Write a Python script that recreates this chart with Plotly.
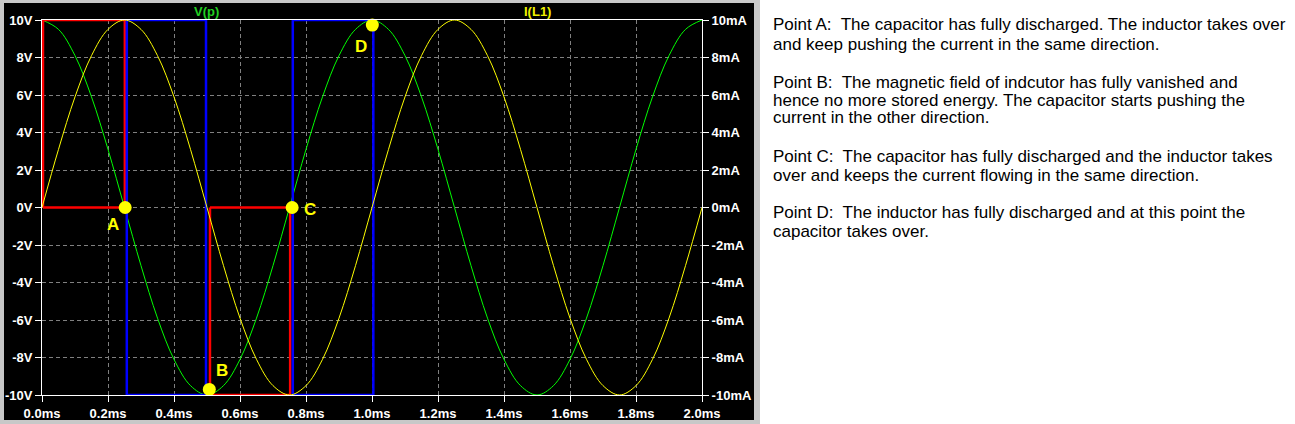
import plotly.graph_objects as go

# ---------------- data ----------------
time_ms = [round(i * 0.05, 2) for i in range(41)]
v_p = [10.0, 9.5, 8.1, 5.9, 3.1, 0.0, -3.1, -5.9, -8.1, -9.5, -10.0, -9.5, -8.1, -5.9, -3.1,
       0.0, 3.1, 5.9, 8.1, 9.5, 10.0, 9.5, 8.1, 5.9, 3.1, 0.0, -3.1, -5.9, -8.1, -9.5, -10.0,
       -9.5, -8.1, -5.9, -3.1, 0.0, 3.1, 5.9, 8.1, 9.5, 10.0]
i_l1 = [0.0, 3.1, 5.9, 8.1, 9.5, 10.0, 9.5, 8.1, 5.9, 3.1, 0.0, -3.1, -5.9, -8.1, -9.5, -10.0,
        -9.5, -8.1, -5.9, -3.1, 0.0, 3.1, 5.9, 8.1, 9.5, 10.0, 9.5, 8.1, 5.9, 3.1, 0.0, -3.1,
        -5.9, -8.1, -9.5, -10.0, -9.5, -8.1, -5.9, -3.1, 0.0]

red1_x = [0.003, 0.003, 0.251, 0.251, 0.003]
red1_y = [0, 10, 10, 0, 0]
red2_x = [0.509, 0.509, 0.752, 0.752, 0.509]
red2_y = [0, -10, -10, 0, 0]
blue1_x = [0.257, 0.257, 0.497, 0.497, 0.257]
blue1_y = [10, -10, -10, 10, 10]
blue2_x = [0.760, 0.760, 1.004, 1.004, 0.760]
blue2_y = [10, -10, -10, 10, 10]

point_names = ["A", "B", "C", "D"]
point_t = [0.252, 0.507, 0.758, 1.001]
point_v = [0.0, -9.7, 0.0, 9.73]

trace_names = ["V(p)", "I(L1)"]

x_ticks = [round(i * 0.2, 1) for i in range(11)]
x_ticktext = ["%.1fms" % v for v in x_ticks]
y_ticks = [10, 8, 6, 4, 2, 0, -2, -4, -6, -8, -10]
y_ticktext = ["%dV" % v for v in y_ticks]
y2_ticktext = ["%dmA" % v for v in y_ticks]

notes = [
    "Point A:\u00a0 The capacitor has fully discharged. The inductor takes over",
    "and keep pushing the current in the same direction.",
    "Point B:\u00a0 The magnetic field of indcutor has fully vanished and",
    "hence no more stored energy. The capacitor starts pushing the",
    "current in the other direction.",
    "Point C:\u00a0 The capacitor has fully discharged and the inductor takes",
    "over and keeps the current flowing in the same direction.",
    "Point D:\u00a0 The inductor has fully discharged and at this point the",
    "capacitor takes over.",
]
note_rows = [25, 45, 82, 100, 118, 157, 175, 213, 231]

# ---------------- layout geometry ----------------
W, H = 1295, 424
L, R, T, B = 42, 702, 20, 395


def px2x(p):
    return (p - L) / (R - L)


def px2y(q):
    return (B - q) / (B - T)


FONT = "Liberation Sans, Arial, sans-serif"

fig = go.Figure()

fig.add_trace(go.Scatter(x=time_ms, y=v_p, mode="lines", name=trace_names[0],
                         line=dict(color="#00ff00", width=1, shape="spline"),
                         showlegend=False, hoverinfo="skip"))
fig.add_trace(go.Scatter(x=time_ms, y=i_l1, mode="lines", yaxis="y2", name=trace_names[1],
                         line=dict(color="#ffff00", width=1, shape="spline"),
                         showlegend=False, hoverinfo="skip"))

for xs, ys, col in [(red1_x, red1_y, "#ff0000"), (blue1_x, blue1_y, "#0000ff"),
                    (red2_x, red2_y, "#ff0000"), (blue2_x, blue2_y, "#0000ff")]:
    fig.add_trace(go.Scatter(x=xs, y=ys, mode="lines", line=dict(color=col, width=2.5),
                             showlegend=False, hoverinfo="skip"))

fig.add_trace(go.Scatter(x=point_t, y=point_v, mode="markers",
                         marker=dict(color="#ffff00", size=13, line=dict(width=0)),
                         showlegend=False, hoverinfo="skip", cliponaxis=False))

label_shift = {"A": (-12.5, -17), "B": (12.5, 19), "C": (17.5, -2), "D": (-11.5, -21)}
annotations = []
for n, t, v in zip(point_names, point_t, point_v):
    dx, dy = label_shift[n]
    annotations.append(dict(x=t, y=v, xref="x", yref="y", text="<b>%s</b>" % n, showarrow=False,
                            xshift=dx, yshift=dy, font=dict(family=FONT, size=17, color="#ffff00")))

annotations.append(dict(x=px2x(206), y=px2y(12), xref="paper", yref="paper", text="<b>%s</b>" % trace_names[0],
                        showarrow=False, xanchor="center", yanchor="middle",
                        font=dict(family=FONT, size=13, color="#22d022")))
annotations.append(dict(x=px2x(537), y=px2y(12), xref="paper", yref="paper", text="<b>%s</b>" % trace_names[1],
                        showarrow=False, xanchor="center", yanchor="middle",
                        font=dict(family=FONT, size=13, color="#f0f000")))

for txt, row in zip(notes, note_rows):
    annotations.append(dict(x=px2x(771), y=px2y(row), xref="paper", yref="paper", text=txt,
                            showarrow=False, xanchor="left", yanchor="middle",
                            font=dict(family=FONT, size=17, color="#000000")))

shapes = [
    dict(type="rect", xref="paper", yref="paper", x0=px2x(0), x1=px2x(760), y0=px2y(424), y1=px2y(0),
         fillcolor="#c8c8c8", line=dict(width=0), layer="below"),
    dict(type="rect", xref="paper", yref="paper", x0=px2x(4), x1=px2x(754), y0=px2y(420), y1=px2y(3),
         fillcolor="#000000", line=dict(width=0), layer="below"),
]

axis_font = dict(family=FONT, size=13, color="#ffffff", weight="bold")

fig.update_layout(
    width=W, height=H, autosize=False,
    margin=dict(l=L, r=W - R, t=T, b=H - B, pad=0, autoexpand=False),
    paper_bgcolor="#ffffff", plot_bgcolor="#000000",
    showlegend=False,
    annotations=annotations, shapes=shapes,
    xaxis=dict(range=[0, 2], tickvals=x_ticks, ticktext=x_ticktext, tickfont=axis_font,
               showgrid=True, gridcolor="#808080", gridwidth=1, griddash="4px,3px",
               showline=True, linecolor="#ffffff", linewidth=1, mirror=True,
               ticks="outside", ticklen=6, tickcolor="#ffffff", tickwidth=1,
               zeroline=False, fixedrange=True, automargin=False),
    yaxis=dict(range=[-10, 10], tickvals=y_ticks, ticktext=y_ticktext, tickfont=axis_font,
               showgrid=True, gridcolor="#808080", gridwidth=1, griddash="4px,3px",
               showline=True, linecolor="#ffffff", linewidth=1,
               ticks="outside", ticklen=6, tickcolor="#ffffff", tickwidth=1,
               zeroline=False, fixedrange=True, automargin=False),
    yaxis2=dict(range=[-10, 10], tickvals=y_ticks, ticktext=y2_ticktext, tickfont=axis_font,
                overlaying="y", side="right", showgrid=False,
                showline=True, linecolor="#ffffff", linewidth=1,
                ticks="outside", ticklen=6, tickcolor="#ffffff", tickwidth=1,
                zeroline=False, fixedrange=True, automargin=False),
)

fig.write_html("out.html", config={"displayModeBar": False},
               post_script="document.body.style.margin='0';document.body.style.overflow='hidden';")
